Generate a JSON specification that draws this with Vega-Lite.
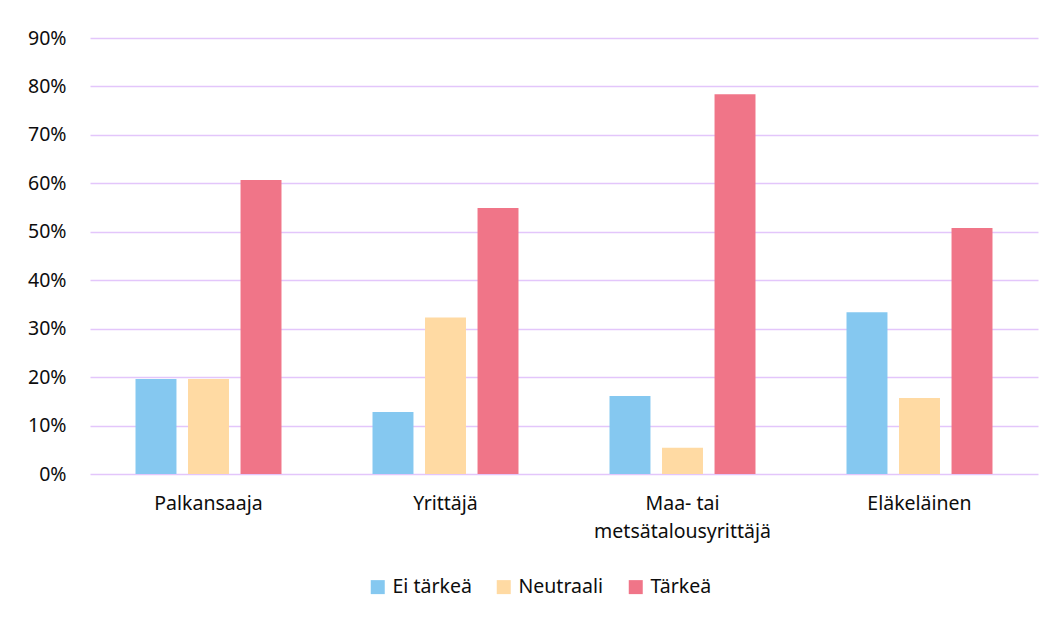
{
  "$schema": "https://vega.github.io/schema/vega-lite/v6.json",
  "autosize": {"type": "none"},
  "width": 948,
  "height": 436,
  "padding": {"left": 90, "top": 38, "right": 21, "bottom": 149},
  "background": "white",
  "data": {
    "values": [
      {"ryhma": "Palkansaaja", "vastaus": "Ei tärkeä", "osuus": 0.196},
      {"ryhma": "Palkansaaja", "vastaus": "Neutraali", "osuus": 0.196},
      {"ryhma": "Palkansaaja", "vastaus": "Tärkeä", "osuus": 0.607},
      {"ryhma": "Yrittäjä", "vastaus": "Ei tärkeä", "osuus": 0.128},
      {"ryhma": "Yrittäjä", "vastaus": "Neutraali", "osuus": 0.323},
      {"ryhma": "Yrittäjä", "vastaus": "Tärkeä", "osuus": 0.549},
      {"ryhma": "Maa- tai metsätalousyrittäjä", "vastaus": "Ei tärkeä", "osuus": 0.161},
      {"ryhma": "Maa- tai metsätalousyrittäjä", "vastaus": "Neutraali", "osuus": 0.054},
      {"ryhma": "Maa- tai metsätalousyrittäjä", "vastaus": "Tärkeä", "osuus": 0.784},
      {"ryhma": "Eläkeläinen", "vastaus": "Ei tärkeä", "osuus": 0.334},
      {"ryhma": "Eläkeläinen", "vastaus": "Neutraali", "osuus": 0.157},
      {"ryhma": "Eläkeläinen", "vastaus": "Tärkeä", "osuus": 0.508}
    ]
  },
  "mark": {"type": "bar"},
  "encoding": {
    "x": {
      "field": "ryhma",
      "type": "nominal",
      "sort": ["Palkansaaja", "Yrittäjä", "Maa- tai metsätalousyrittäjä", "Eläkeläinen"],
      "scale": {"paddingInner": 0.384, "paddingOuter": 0.192},
      "axis": {
        "title": null,
        "labelAngle": 0,
        "ticks": false,
        "domain": false,
        "labelPadding": 20,
        "labelFontSize": 19.5,
        "labelFont": "Noto Sans",
        "labelColor": "#0d0d0d",
        "labelLineHeight": 28,
        "labelExpr": "datum.label == 'Maa- tai metsätalousyrittäjä' ? ['Maa- tai', 'metsätalousyrittäjä'] : datum.label"
      }
    },
    "xOffset": {
      "field": "vastaus",
      "type": "nominal",
      "sort": ["Ei tärkeä", "Neutraali", "Tärkeä"],
      "scale": {"paddingInner": 0.22, "paddingOuter": 0}
    },
    "y": {
      "field": "osuus",
      "type": "quantitative",
      "scale": {"domain": [0, 0.9], "nice": false},
      "axis": {
        "title": null,
        "format": ".0%",
        "values": [0, 0.1, 0.2, 0.3, 0.4, 0.5, 0.6, 0.7, 0.8, 0.9],
        "ticks": false,
        "domain": false,
        "labelPadding": 24,
        "labelFontSize": 19.5,
        "labelFont": "Noto Sans",
        "labelColor": "#0d0d0d",
        "gridColor": "#e3c6fb",
        "gridWidth": 1.5
      }
    },
    "color": {
      "field": "vastaus",
      "type": "nominal",
      "sort": ["Ei tärkeä", "Neutraali", "Tärkeä"],
      "scale": {
        "domain": ["Ei tärkeä", "Neutraali", "Tärkeä"],
        "range": ["#85c8f0", "#ffdaa3", "#f07588"]
      },
      "legend": {
        "title": null,
        "orient": "none",
        "direction": "horizontal",
        "legendX": 278,
        "legendY": 539,
        "symbolType": "square",
        "symbolSize": 196,
        "symbolStrokeWidth": 0,
        "labelFontSize": 19.5,
        "labelFont": "Noto Sans",
        "labelColor": "#0d0d0d",
        "columnPadding": 22,
        "labelOffset": 5
      }
    }
  },
  "config": {
    "view": {"stroke": null}
  }
}
